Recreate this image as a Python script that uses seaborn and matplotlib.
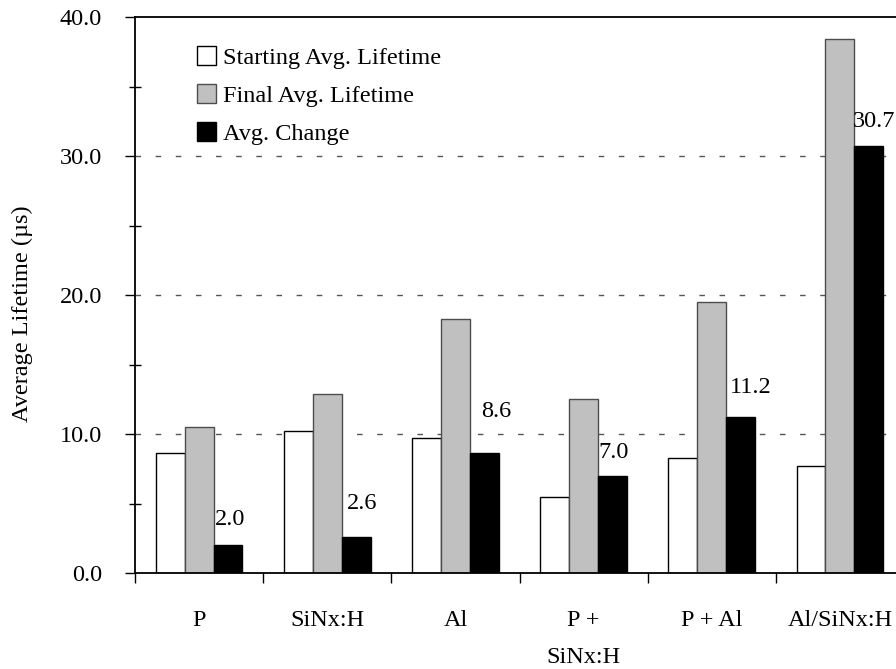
import matplotlib
matplotlib.use("Agg")
import matplotlib.pyplot as plt
import seaborn as sns
import pandas as pd
import numpy as np

# --- data -------------------------------------------------------------
categories = ["P", "SiNx:H", "Al", "P +\nSiNx:H", "P + Al", "Al/SiNx:H"]
series = ["Starting Avg. Lifetime", "Final Avg. Lifetime", "Avg. Change"]
starting = [8.6, 10.2, 9.7, 5.5, 8.3, 7.7]
final = [10.5, 12.9, 18.3, 12.5, 19.5, 38.4]
change = [2.0, 2.6, 8.6, 7.0, 11.2, 30.7]
y_ticks = [0, 10, 20, 30, 40]

# label nudges (pixels) for the change values
label_dx = [2, 6, 12, 1, 10, 5]
label_dy = [20, 28, 36, 18, 24, 19]

df = pd.DataFrame({
    "group": categories * 3,
    "series": np.repeat(series, len(categories)),
    "value": starting + final + change,
})

# --- style ------------------------------------------------------------
sns.set_style("white")
plt.rcParams["font.family"] = ["Liberation Serif", "DejaVu Serif"]
plt.rcParams["font.size"] = 17.5
plt.rcParams["text.color"] = "black"
plt.rcParams["axes.labelcolor"] = "black"
plt.rcParams["xtick.color"] = "black"
plt.rcParams["ytick.color"] = "black"
plt.rcParams["lines.scale_dashes"] = False

fills = ["#FFFFFF", "#C0C0C0", "#000000"]
edges = ["#000000", "#4d4d4d", "#000000"]

fig = plt.figure(figsize=(8.96, 6.69), dpi=100)
ax = fig.add_axes([135 / 896, 96 / 669, 769 / 896, 556 / 669])

sns.barplot(data=df, x="group", y="value", hue="series",
            order=categories, hue_order=series, palette=fills,
            saturation=1, width=0.675, errorbar=None,
            linewidth=1.0, edgecolor="black", ax=ax)

for cont, ec in zip(ax.containers, edges):
    for p in cont:
        p.set_edgecolor(ec)
        p.set_linewidth(1.0)

# value labels above the change bars
for i, p in enumerate(ax.containers[2]):
    xc = p.get_x() + p.get_width() / 2
    ax.annotate(f"{change[i]:.1f}", xy=(xc, p.get_height()),
                xytext=(label_dx[i], label_dy[i]), textcoords="offset pixels",
                ha="center", va="baseline", fontsize=17.5, color="black")

# axes
ax.set_xlim(-0.5, len(categories) - 0.5)
ax.set_ylim(0, 40)
ax.set_yticks(y_ticks)
ax.set_yticklabels([f"{v:.1f}" for v in y_ticks])
ax.set_yticks([5, 15, 25, 35], minor=True)
ax.set_xticks(range(len(categories)))
ax.set_xticklabels(categories, linespacing=2.0)
ax.set_xticks(np.arange(-0.5, len(categories)), minor=True)
ax.set_xlabel("")
ax.set_ylabel("Average Lifetime (µs)", fontsize=17.5)
ax.yaxis.set_label_coords(-0.132, 0.466)

ax.tick_params(axis="x", which="major", bottom=True, length=0, pad=26.5,
               labelsize=17.5)
ax.tick_params(axis="x", which="minor", bottom=True, length=7.2, width=1.0,
               direction="out")
ax.tick_params(axis="y", which="major", left=True, length=7.2, width=1.0,
               direction="out", pad=16.5, labelsize=17.5)
ax.tick_params(axis="y", which="minor", left=True, length=8.6, width=1.0,
               direction="inout")

for s in ["left", "bottom", "top"]:
    ax.spines[s].set_visible(True)
    ax.spines[s].set_color("black")
    ax.spines[s].set_linewidth(1.3)
ax.spines["right"].set_visible(False)

# dashed reference lines at the interior major ticks
ax.grid(False)
for yv in y_ticks[1:-1]:
    ax.axhline(yv, color="#555555", linewidth=1.0, linestyle=(0, (4, 10.5)),
               zorder=0.5)

# legend
handles, labels = ax.get_legend_handles_labels()
for h, ec in zip(handles, edges):
    h.set_edgecolor(ec)
    h.set_linewidth(1.0)
ax.legend(handles, labels, loc="upper left", bbox_to_anchor=(0.08, 0.947),
          frameon=False, fontsize=17.5, handlelength=0.8, handleheight=0.8,
          handletextpad=0.3, labelspacing=0.62, borderpad=0, borderaxespad=0)

fig.savefig("out.png", dpi=100)
